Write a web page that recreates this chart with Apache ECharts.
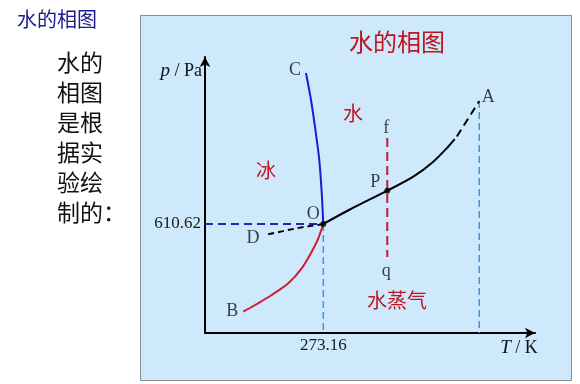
<!DOCTYPE html>
<html>
<head>
<meta charset="utf-8">
<script src="https://cdn.jsdelivr.net/npm/echarts@6/dist/echarts.min.js"></script>
<style>
html,body{margin:0;padding:0;background:#fff;}
#chart{width:580px;height:384px;}
</style>
</head>
<body>
<div id="chart"></div>
<script>
// ---- data (schematic phase diagram of water) ----
const tAxisRange = [0, 762];      // T / K (schematic)
const pAxisRange = [0, 1546];     // p / Pa (schematic)
const tripleT = 273.16;
const tripleP = 610.62;
const tickT = [273.16];
const tickP = [610.62];

// O -> C : melting curve (ice / water)
const curveOC = [[273.16, 610.62], [269.5, 784.3], [263.9, 969.1], [254.0, 1154], [244.8, 1305], [233.2, 1456.5]];
// O -> B : sublimation curve (ice / vapour)
const curveOB = [[273.16, 610.62], [261.6, 530.5], [246.4, 455.4], [223.3, 362.5], [192.3, 278.4], [154.0, 212.9], [115.5, 156.9], [88.4, 119.3]];
// O -> D : supercooled water (metastable)
const curveOD = [[273.16, 610.62], [211.7, 586.5], [138.5, 549]];
// O -> A : vaporisation curve (water / vapour)
const curveOA = [[273.16, 610.62], [330.2, 686.2], [420.9, 797.2], [481.0, 875.6], [527.1, 959.6], [562.0, 1045.0], [576.5, 1086.0]];
const curveOAend = [[581.5, 1101], [633.3, 1299.7]];
// isobaric path f -> q through P
const pathT = 420.9;
const pathP = [1092.4, 425.8];
const pointP = 797.2;

const pointNames = ['C', 'A', 'f', 'P', 'O', 'D', 'q', 'B'];
const regionLabels = ['冰', '水', '水蒸气'];
const chartTitle = '水的相图';
const sideTitle = '水的相图';
const sideText = ['水的', '相图', '是根', '据实', '验绘', '制的：'];

// ---- derived ----
const pointCoords = {
  C: curveOC[curveOC.length - 1],
  A: curveOAend[curveOAend.length - 1],
  f: [pathT, pathP[0]],
  P: [pathT, pointP],
  O: [tripleT, tripleP],
  D: curveOD[curveOD.length - 1],
  q: [pathT, pathP[1]],
  B: curveOB[curveOB.length - 1]
};
const labelOffset = {
  C: [-11, -3], A: [9, -4], f: [-1, -10], P: [-12, -8],
  O: [-10, -10], D: [-12, 3], q: [-1, 14], B: [-11, 0]
};
const dotted = { O: 6, P: 6 };

const serif = '"Liberation Serif", "DejaVu Serif", serif';
const cjk = '"Noto Sans CJK SC", sans-serif';

const chart = echarts.init(document.getElementById('chart'), null, { renderer: 'canvas' });

function lineSeries(data, color, width, dash, smooth) {
  return {
    type: 'line', data: data, smooth: smooth ? 0.3 : false,
    showSymbol: false, symbol: 'none', silent: true,
    lineStyle: { color: color, width: width, type: dash || 'solid' },
    z: 3
  };
}

const option = {
  backgroundColor: '#ffffff',
  animation: false,
  grid: { left: 205, right: 45, top: 57, bottom: 51, containLabel: false },
  xAxis: {
    type: 'value', min: tAxisRange[0], max: tAxisRange[1],
    axisLine: { show: true, onZero: false, lineStyle: { color: '#000', width: 2 }, symbol: ['none', 'arrow'], symbolSize: [8, 10] },
    axisTick: { show: false },
    splitLine: { show: false },
    axisLabel: { customValues: tickT, formatter: v => v.toFixed(2), color: '#1a1a1a', fontFamily: serif, fontSize: 17, margin: 4 }
  },
  yAxis: {
    type: 'value', min: pAxisRange[0], max: pAxisRange[1],
    axisLine: { show: true, onZero: false, lineStyle: { color: '#000', width: 2 }, symbol: ['none', 'arrow'], symbolSize: [8, 10] },
    axisTick: { show: false },
    splitLine: { show: false },
    axisLabel: { customValues: tickP, formatter: v => v.toFixed(2), color: '#1a1a1a', fontFamily: serif, fontSize: 17, margin: 4 }
  },
  graphic: [
    { type: 'rect', z: -100, shape: { x: 140.5, y: 15.5, width: 431, height: 365 }, style: { fill: '#cde9fb', stroke: '#8c8c8c', lineWidth: 1 } },
    { type: 'text', left: 17, top: 9, style: { text: sideTitle, fill: '#1a1a8c', font: '20px ' + cjk } },
    { type: 'text', left: 57, top: 47, style: { text: sideText.join('\n'), fill: '#111', font: '23px ' + cjk, lineHeight: 30 } },
    { type: 'text', x: 397, y: 42, style: { text: chartTitle, fill: '#c0141e', font: '24px ' + cjk, align: 'center', verticalAlign: 'middle' } },
    { type: 'text', x: 266, y: 170, style: { text: regionLabels[0], fill: '#c0141e', font: '20px ' + cjk, align: 'center', verticalAlign: 'middle' } },
    { type: 'text', x: 353, y: 113, style: { text: regionLabels[1], fill: '#c0141e', font: '20px ' + cjk, align: 'center', verticalAlign: 'middle' } },
    { type: 'text', x: 397, y: 300, style: { text: regionLabels[2], fill: '#c0141e', font: '20px ' + cjk, align: 'center', verticalAlign: 'middle' } },
    { type: 'text', x: 202, y: 71, style: {
        text: '{i|p}{n| / Pa}', align: 'right', verticalAlign: 'middle',
        rich: { i: { font: 'italic 19px ' + serif, fill: '#111' }, n: { font: '18px ' + serif, fill: '#111' } } } },
    { type: 'text', x: 519, y: 348, style: {
        text: '{i|T}{n| / K}', align: 'center', verticalAlign: 'middle',
        rich: { i: { font: 'italic 19px ' + serif, fill: '#111' }, n: { font: '18px ' + serif, fill: '#111' } } } }
  ],
  series: [
    lineSeries([[tAxisRange[0], tripleP], [tripleT, tripleP]], '#2626b4', 2, [8, 5]),
    lineSeries([[tripleT, tripleP], [tripleT, pAxisRange[0]]], '#4a90d4', 1.5, [7, 4]),
    lineSeries([curveOAend[1], [curveOAend[1][0], pAxisRange[0]]], '#4a90d4', 1.5, [7, 4]),
    lineSeries([[pathT, pathP[0]], [pathT, pathP[1]]], '#c01e2c', 2, [9, 5]),
    lineSeries(curveOC, '#1a1ad0', 2, null, true),
    lineSeries(curveOB, '#cc1f2d', 2, null, true),
    lineSeries(curveOD, '#000', 2, [6, 4], true),
    lineSeries(curveOA, '#000', 2, null, true),
    lineSeries(curveOAend, '#000', 2, [8, 5]),
    {
      type: 'scatter', silent: true, z: 5,
      data: pointNames.map(n => ({
        value: pointCoords[n],
        symbolSize: dotted[n] || 0,
        label: {
          show: true, formatter: n, position: 'inside', offset: labelOffset[n],
          color: '#111', fontFamily: serif, fontSize: 18
        }
      })),
      itemStyle: { color: '#000' }
    }
  ]
};
chart.setOption(option);
</script>
</body>
</html>
